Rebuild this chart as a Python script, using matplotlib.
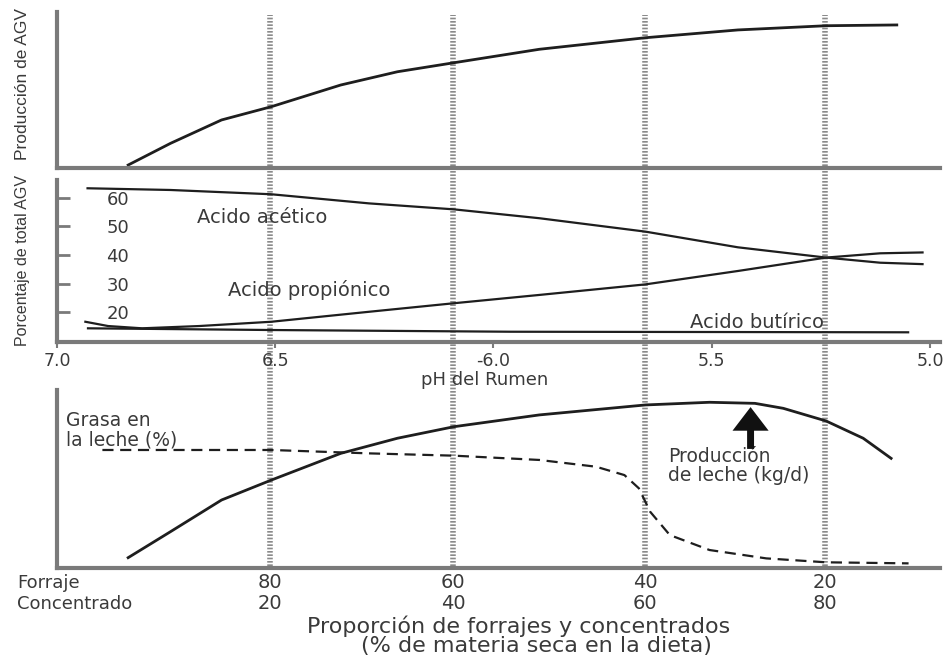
import numpy as np
import matplotlib.pyplot as plt

# ---- data (x in pH units, shared by all panels) ----
ph_agv = [6.837, 6.74, 6.623, 6.509, 6.35, 6.22, 6.09, 5.895, 5.652, 5.44, 5.238, 5.076]
agv_prod = [0.19, 1.58, 3.08, 3.93, 5.32, 6.17, 6.75, 7.61, 8.35, 8.85, 9.12, 9.17]

ph_acetic = [6.93, 6.74, 6.509, 6.285, 6.09, 5.895, 5.652, 5.44, 5.238, 5.114, 5.017]
acetic = [63.4, 62.8, 61.3, 58.1, 56.0, 52.9, 48.2, 42.7, 39.1, 37.3, 36.8]

ph_propionic = [6.935, 6.883, 6.805, 6.674, 6.509, 6.285, 6.09, 5.895, 5.652, 5.44,
                5.238, 5.114, 5.017]
propionic = [16.6, 15.1, 14.3, 15.1, 16.6, 20.1, 23.1, 26.0, 29.7, 34.4, 39.1, 40.6, 40.9]

ph_butyric = [6.929, 6.509, 5.96, 5.05]
butyric = [14.3, 13.7, 13.1, 12.9]

ph_ticks = [7.0, 6.5, 6.0, 5.5, 5.0]
ph_ticklabels = ['7.0', '6.5', '-6.0', '5.5', '5.0']
pct_ticks = [20, 30, 40, 50, 60]

# pH position of each forage / concentrate proportion (dotted guide lines)
forraje_ph = [6.512, 6.093, 5.653, 5.241]
forraje = [80, 60, 40, 20]
concentrado = [20, 40, 60, 80]

ph_milk = [6.837, 6.74, 6.623, 6.509, 6.35, 6.22, 6.09, 5.895, 5.652, 5.505,
           5.401, 5.336, 5.238, 5.153, 5.089]
milk = [0.58, 2.04, 3.82, 4.94, 6.44, 7.29, 7.94, 8.60, 9.16, 9.31,
        9.25, 8.97, 8.26, 7.29, 6.16]

ph_fat = [6.896, 6.509, 6.285, 6.09, 5.895, 5.765, 5.70, 5.667, 5.641, 5.596,
          5.505, 5.375, 5.238, 5.049]
fat = [6.63, 6.63, 6.44, 6.31, 6.07, 5.69, 5.22, 4.48, 3.16, 1.85, 1.01, 0.54, 0.32, 0.26]

W, H = 948, 659
XMIN, XMAX = 7.0, 4.977
LINE = '#1e1e1e'
SPINE = '#7a7a7a'
TXT = '#3a3a3a'
NARROW = ['Liberation Sans', 'DejaVu Sans']


def box(left, top, right, bottom):
    return [left / W, 1 - bottom / H, (right - left) / W, (bottom - top) / H]


def style(ax):
    ax.set_facecolor('none')
    for s in ['top', 'right']:
        ax.spines[s].set_visible(False)
    for s in ['left', 'bottom']:
        ax.spines[s].set_color(SPINE)
        ax.spines[s].set_linewidth(3)
    ax.set_xlim(XMIN, XMAX)


fig = plt.figure(figsize=(W / 100, H / 100), dpi=100)

# dotted guide lines spanning all three panels
guide = fig.add_axes(box(57, 15, 940, 566))
guide.set_xlim(XMIN, XMAX)
guide.set_ylim(0, 1)
guide.axis('off')
for x in forraje_ph:
    guide.axvline(x, color='#8a8a8a', lw=4, linestyle=(0, (0.3, 0.3)))

# --- panel 1: AGV production ---
ax1 = fig.add_axes(box(57, 12, 940, 168))
style(ax1)
ax1.plot(ph_agv, agv_prod, color=LINE, lw=2)
ax1.set_ylim(0, 10)
ax1.set_xticks([])
ax1.set_yticks([])
fig.text(23 / W, 1 - 84 / H, 'Producción de AGV', rotation=90, ha='center', va='center',
         fontsize=12.5, color=TXT, family=NARROW)

# --- panel 2: percentage of total AGV ---
ax2 = fig.add_axes(box(57, 180, 940, 342))
style(ax2)
ax2.plot(ph_acetic, acetic, color=LINE, lw=1.6)
ax2.plot(ph_propionic, propionic, color=LINE, lw=1.6)
ax2.plot(ph_butyric, butyric, color=LINE, lw=1.6)
ax2.set_ylim(9.5, 66.3)
ax2.set_yticks(pct_ticks)
ax2.tick_params(axis='y', direction='in', length=9, width=2, color=SPINE,
                pad=-52, labelsize=13, labelcolor=TXT)
ax2.set_xticks(ph_ticks)
ax2.set_xticklabels(ph_ticklabels)
ax2.tick_params(axis='x', direction='out', length=4, width=1.5, color=SPINE,
                pad=3, labelsize=12.5, labelcolor=TXT)
ax2.text(6.679, 53.3, 'Acido acético', fontsize=14, color=TXT, va='center')
ax2.text(6.608, 27.7, 'Acido propiónico', fontsize=14, color=TXT, va='center')
ax2.text(5.55, 16.5, 'Acido butírico', fontsize=14, color=TXT, va='center')
fig.text(23 / W, 1 - 260 / H, 'Porcentaje de total AGV', rotation=90, ha='center', va='center',
         fontsize=11.5, color=TXT, family=NARROW)
fig.text(485 / W, 1 - 380 / H, 'pH del Rumen', ha='center', va='center',
         fontsize=13, color=TXT)

# --- panel 3: milk production and milk fat ---
ax3 = fig.add_axes(box(57, 390, 940, 568))
style(ax3)
ax3.plot(ph_milk, milk, color=LINE, lw=2)
ax3.plot(ph_fat, fat, color=LINE, lw=1.6, linestyle=(0, (5, 3)))
ax3.set_ylim(0, 10)
ax3.set_xticks([])
ax3.set_yticks([])
ax3.text(6.98, 7.73, 'Grasa en\nla leche (%)', fontsize=13.5, color=TXT, va='center',
         linespacing=1.0)
ax3.text(5.60, 5.75, 'Producción\nde leche (kg/d)', fontsize=13.5, color=TXT, va='center',
         linespacing=1.0)
ax3.annotate('', xy=(5.411, 9.04), xytext=(5.411, 6.69),
             arrowprops=dict(facecolor='#111111', edgecolor='none', width=5,
                             headwidth=26, headlength=17, shrink=0))

for x, f, c in zip(forraje_ph, forraje, concentrado):
    ax3.text(x, -0.084, str(f), transform=ax3.get_xaxis_transform(), ha='center',
             va='center', fontsize=14, color=TXT)
    ax3.text(x, -0.2, str(c), transform=ax3.get_xaxis_transform(), ha='center',
             va='center', fontsize=14, color=TXT)

fig.text(17 / W, 1 - 583 / H, 'Forraje', ha='left', va='center', fontsize=13, color=TXT)
fig.text(17 / W, 1 - 604 / H, 'Concentrado', ha='left', va='center', fontsize=13, color=TXT)
fig.text(519 / W, 1 - 626 / H, 'Proporción de forrajes y concentrados', ha='center',
         va='center', fontsize=16, color=TXT)
fig.text(536 / W, 1 - 646 / H, '(% de materia seca en la dieta)', ha='center',
         va='center', fontsize=16, color=TXT)

fig.savefig('out.png', dpi=100)
